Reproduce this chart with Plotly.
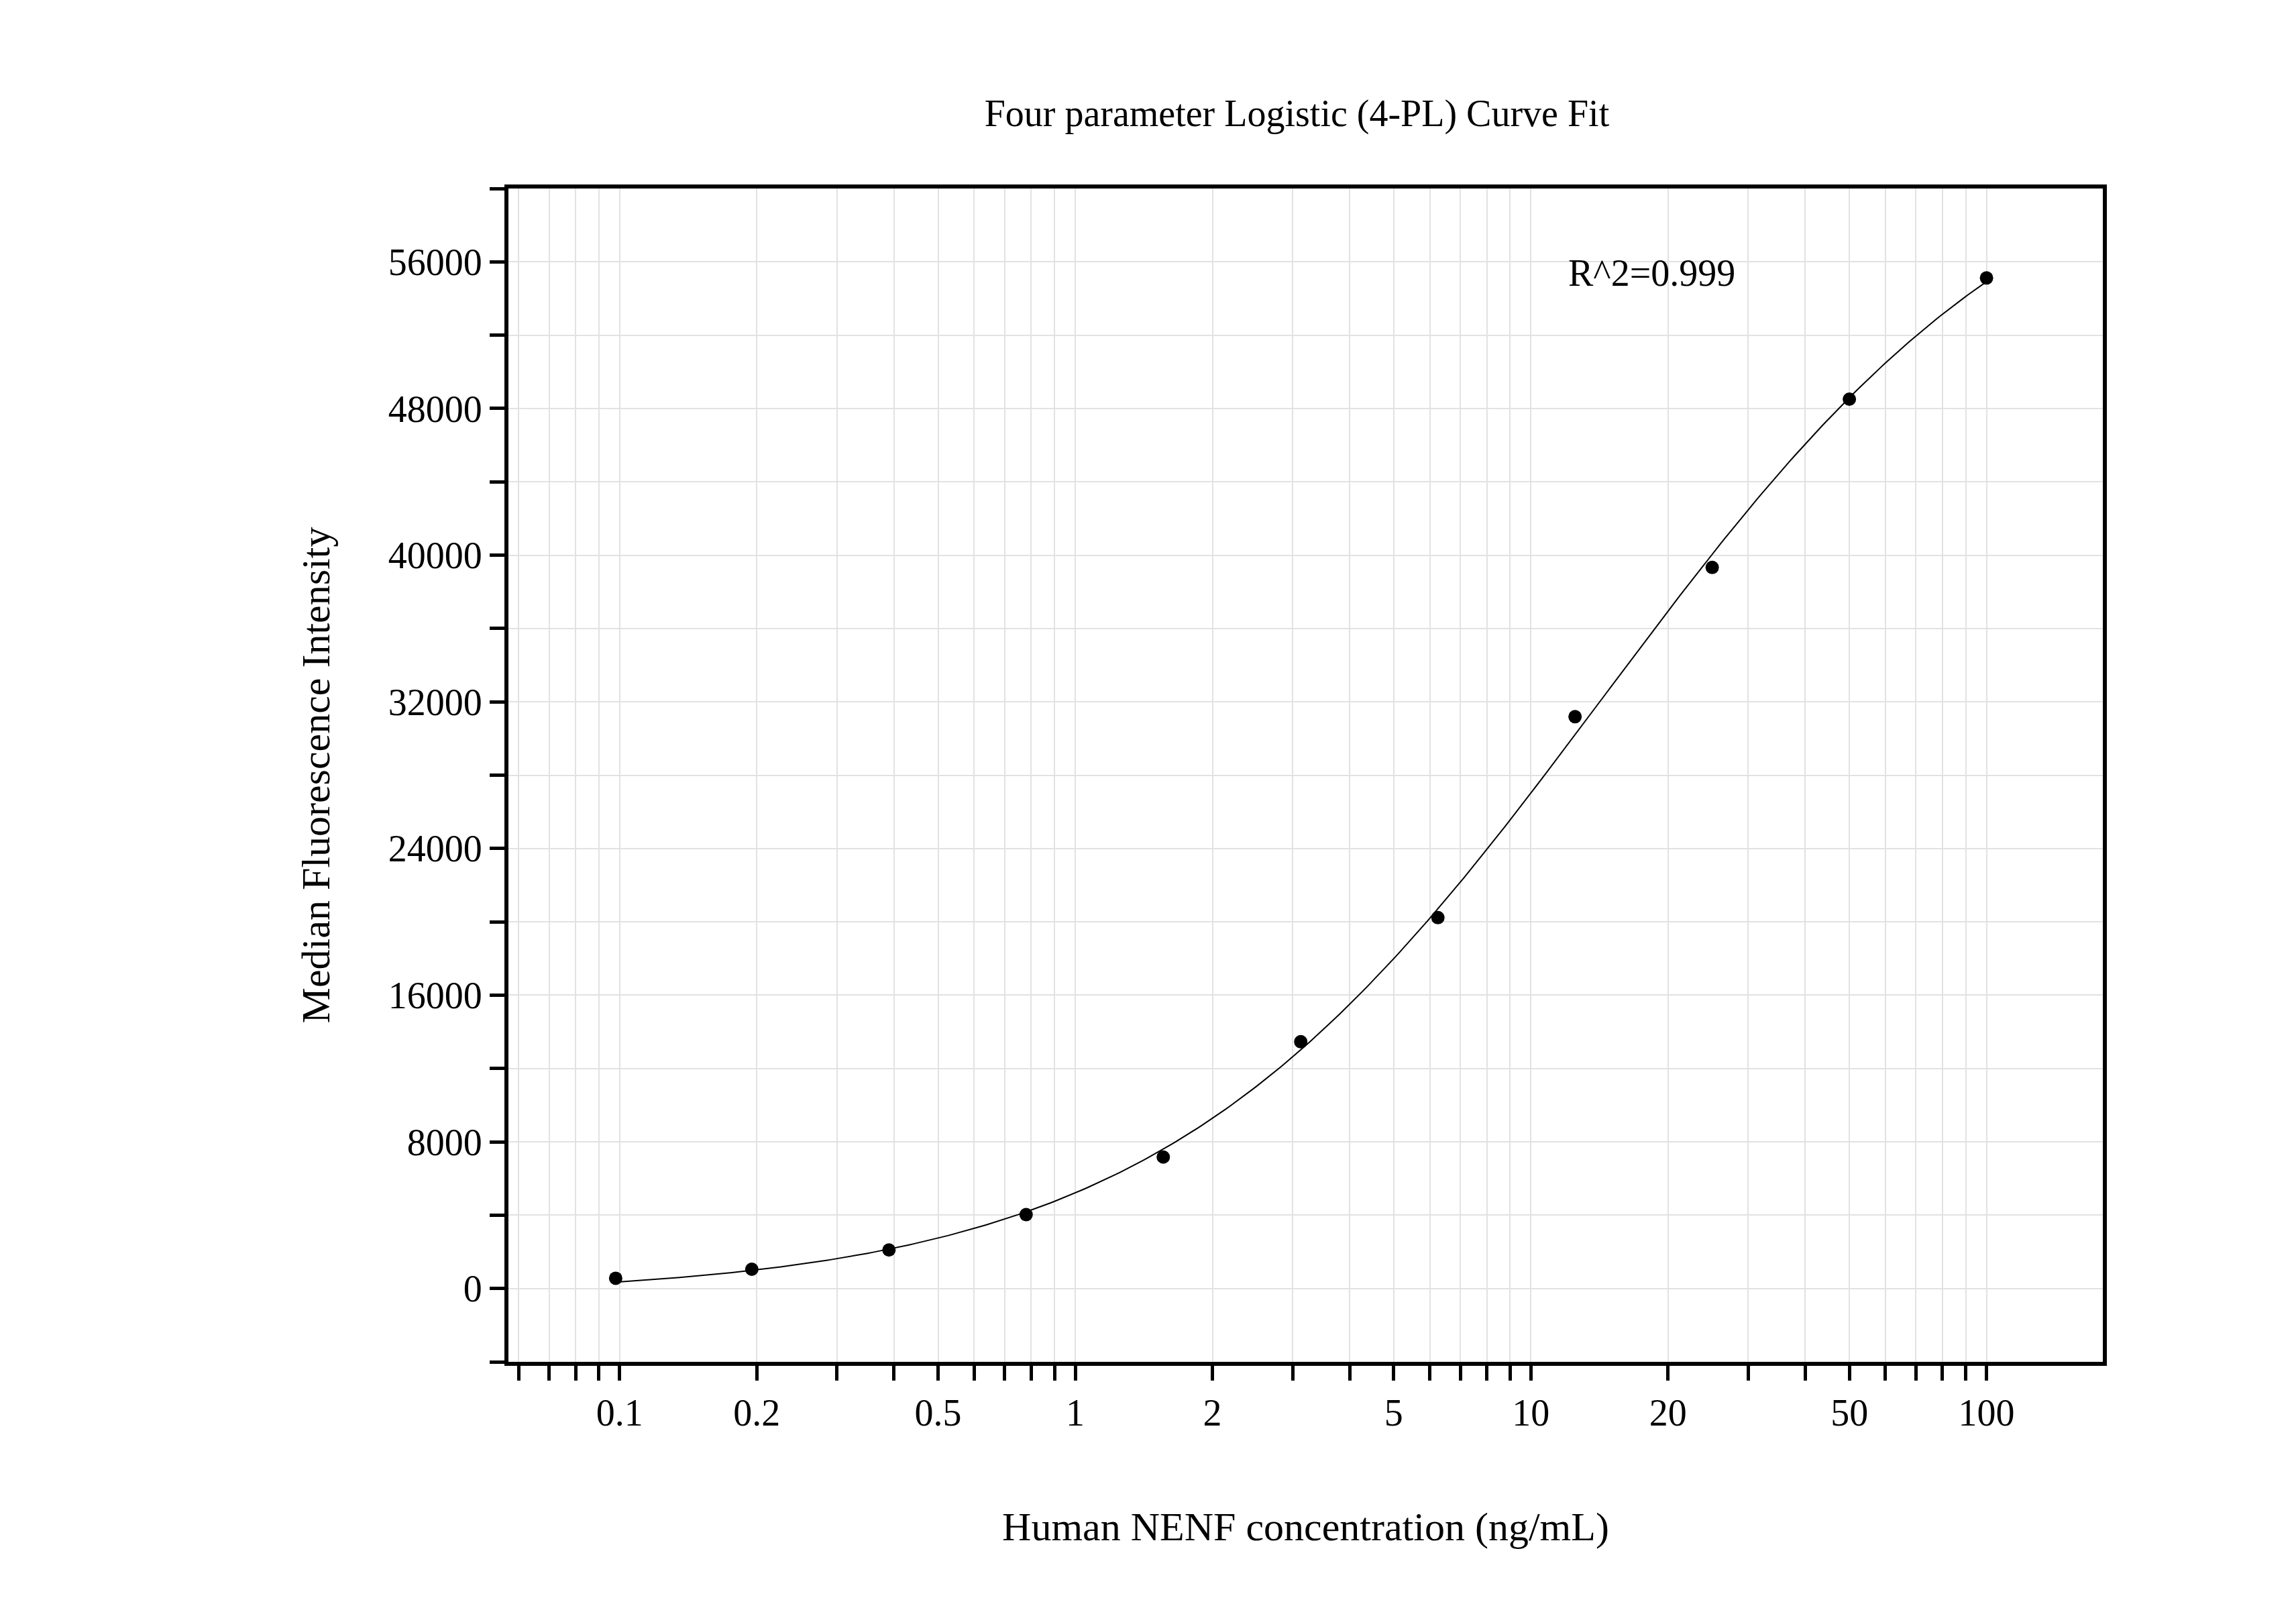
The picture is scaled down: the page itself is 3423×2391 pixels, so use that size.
import numpy as np
import plotly.graph_objects as go

# standards
conc = [0.098, 0.195, 0.39, 0.78, 1.56, 3.125, 6.25, 12.5, 25, 50, 100]
mfi = [560, 1050, 2100, 4030, 7170, 13460, 20230, 31190, 39330, 48510, 55120]
r2_text = "R^2=0.999"

x_labels = {0.1: "0.1", 0.2: "0.2", 0.5: "0.5", 1: "1", 2: "2", 5: "5",
            10: "10", 20: "20", 50: "50", 100: "100"}
y_labels = list(range(0, 56001, 8000))


def four_pl(x, p):
    a, b, c, d = p
    return d + (a - d) / (1 + (x / c) ** b)


# simple damped Gauss-Newton 4PL fit
xs = np.array(conc, float)
ys = np.array(mfi, float)
p = np.array([300.0, 1.2, 15.0, 70000.0])
lam = 1e-2
for _ in range(300):
    r = ys - four_pl(xs, p)
    J = np.zeros((len(xs), 4))
    for k in range(4):
        dp = np.zeros(4)
        dp[k] = 1e-6 * max(abs(p[k]), 1e-3)
        J[:, k] = (four_pl(xs, p + dp) - four_pl(xs, p)) / dp[k]
    H = J.T @ J
    step = np.linalg.solve(H + lam * np.diag(np.diag(H)), J.T @ r)
    newp = p + step
    if newp[2] > 0 and np.sum((ys - four_pl(xs, newp)) ** 2) < np.sum(r ** 2):
        p = newp
        lam *= 0.5
    else:
        lam *= 4

xc = np.logspace(np.log10(0.098), 2, 300)
yc = four_pl(xc, p)

font = "Liberation Serif, Times New Roman, serif"

xtick_vals = []
xtick_text = []
for dec in [0.01, 0.1, 1, 10, 100]:
    for m in range(1, 10):
        v = round(m * dec, 4)
        if 0.057 <= v <= 180:
            xtick_vals.append(v)
            xtick_text.append(x_labels.get(v, ""))

ytick_vals = list(range(-4000, 60001, 4000))
ytick_text = [f"{v}" if v in y_labels else "" for v in ytick_vals]

fig = go.Figure()
fig.add_trace(go.Scatter(x=xc, y=yc, mode="lines",
                         line=dict(color="black", width=2), hoverinfo="skip"))
fig.add_trace(go.Scatter(x=conc, y=mfi, mode="markers",
                         marker=dict(color="black", size=20)))

fig.add_annotation(x=np.log10(12), y=55400, text=r2_text, showarrow=False,
                   xanchor="left", yanchor="middle",
                   font=dict(family=font, size=56, color="black"))

fig.update_layout(
    width=3423, height=2391,
    paper_bgcolor="white", plot_bgcolor="white",
    showlegend=False,
    margin=dict(l=750, r=296, t=273, b=369),
    title=dict(text="Four parameter Logistic (4-PL) Curve Fit",
               x=0.5625, y=0.933, xanchor="center", yanchor="middle",
               font=dict(family=font, size=56, color="black")),
    font=dict(family=font, size=56, color="black"),
)
fig.update_xaxes(
    type="log", range=[np.log10(0.057), np.log10(180)],
    tickvals=xtick_vals, ticktext=xtick_text,
    ticks="outside", ticklen=22, tickwidth=5, tickcolor="black",
    showline=True, linewidth=6, linecolor="black", mirror=True,
    showgrid=True, gridcolor="#e2e2e2", gridwidth=2, zeroline=False,
    title=dict(text="Human NENF concentration (ng/mL)", standoff=120,
               font=dict(family=font, size=60)),
)
fig.update_yaxes(
    range=[-4000, 60000],
    tickvals=ytick_vals, ticktext=ytick_text,
    ticks="outside", ticklen=22, tickwidth=5, tickcolor="black",
    showline=True, linewidth=6, linecolor="black", mirror=True,
    showgrid=True, gridcolor="#e2e2e2", gridwidth=2, zeroline=False,
    title=dict(text="Median Fluorescence Intensity", standoff=70,
               font=dict(family=font, size=60)),
)

fig.write_html("out.html")
